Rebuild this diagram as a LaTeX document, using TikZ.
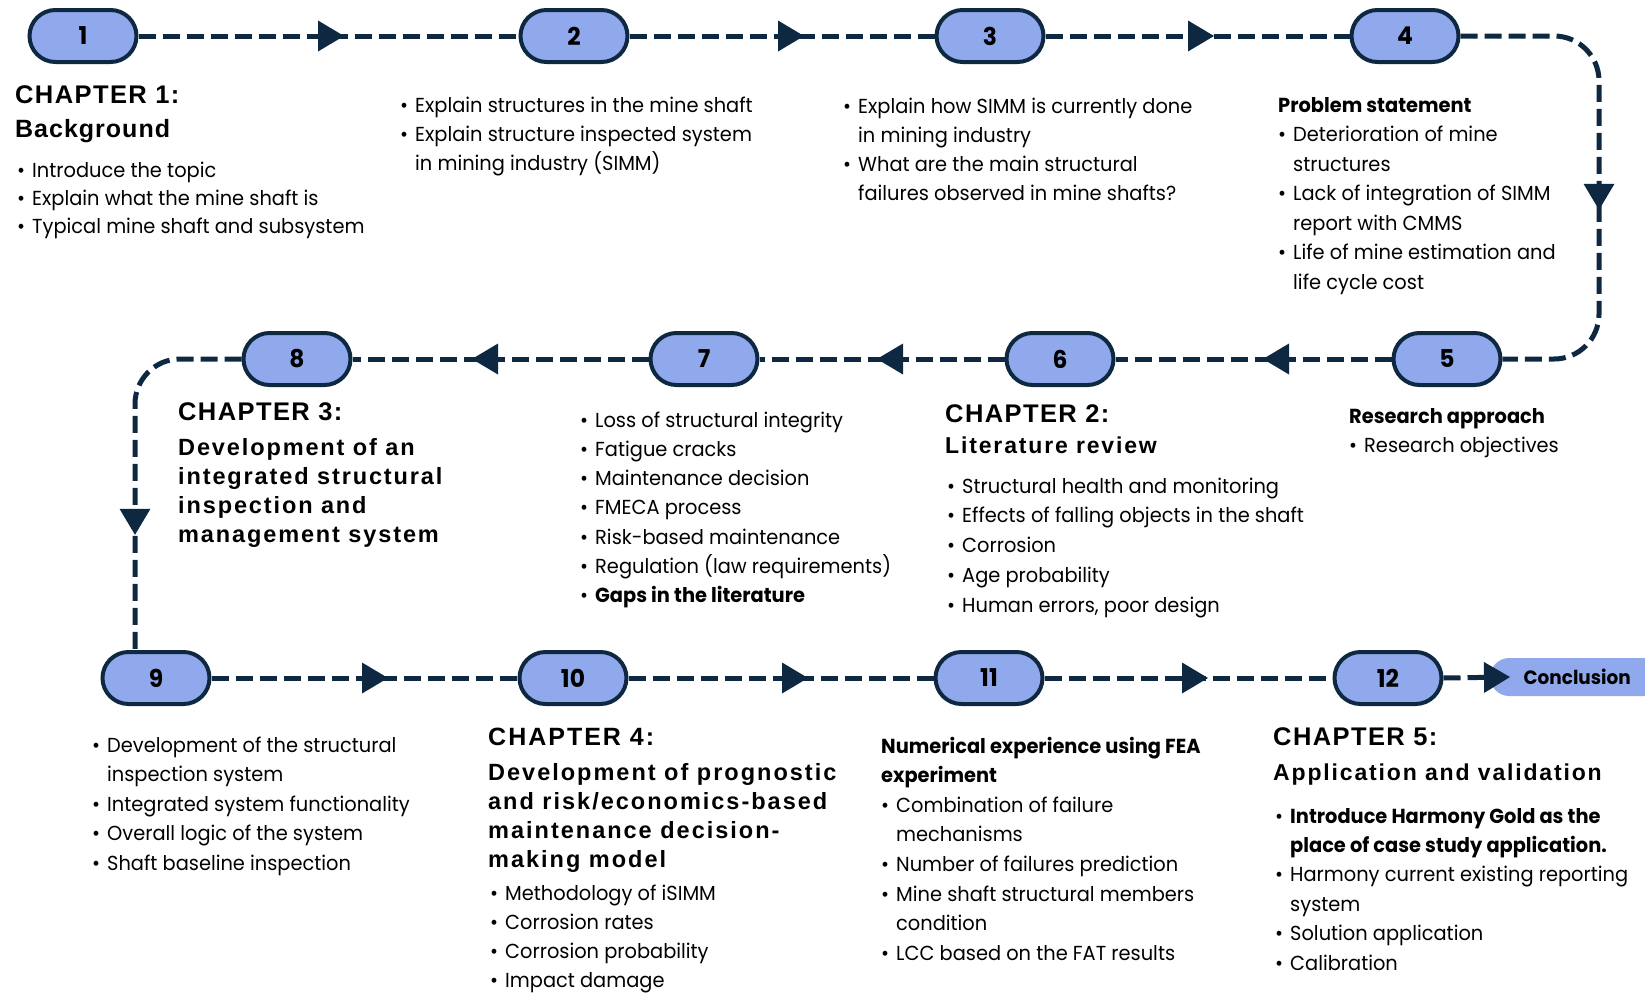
\documentclass[tikz,border=0pt]{standalone}
\usepackage{fontspec}
\usetikzlibrary{arrows.meta,decorations.markings}
\setmainfont{Poppins}
\newfontfamily\bodyfont{Poppins}[FakeStretch=0.955]
\newfontfamily\headfont{Liberation Sans}
\definecolor{navy}{HTML}{0E2841}
\definecolor{stepfill}{HTML}{8FA9EC}

% one line of a text block: bulleted, continued, or plain
\newcommand\itm[1]{\hbox{\makebox[15pt][l]{\textbullet}#1}}
\newcommand\cnt[1]{\hbox{\hspace*{15pt}#1}}
\newcommand\pln[1]{\hbox{#1}}

\tikzset{
  stepnode/.style={draw=navy, line width=4pt, fill=stepfill,
    rounded corners=26pt, minimum width=107pt, minimum height=52pt,
    inner sep=0pt, text=black, font=\bodyfont\bfseries\fontsize{24.5}{24}\selectfont},
  endnode/.style={fill=stepfill, rounded corners=19pt, minimum width=174pt,
    minimum height=38pt, inner sep=0pt, anchor=west, text=black,
    font=\bodyfont\bfseries\fontsize{19.3}{20}\selectfont},
  conn/.style={draw=navy, line width=5pt, dash pattern=on 17pt off 7pt},
  tipshape/.tip={Triangle[length=26pt,width=31pt,line width=0pt]},
  tipat/.style={postaction={decorate}, decoration={markings,
    mark=at position #1 with {\arrow{tipshape}}}},
  body/.style={anchor=base west, inner sep=0pt, text=black,
    font=\bodyfont\fontsize{20.3}{#1}\selectfont},
  body/.default=29.4pt,
  head/.style 2 args={anchor=base west, inner sep=0pt, text=black,
    font=\headfont\bfseries\fontsize{#1}{29}\selectfont\addfontfeature{LetterSpace=#2}},
}

\begin{document}
\begin{tikzpicture}[x=1pt, y=-1pt]
\useasboundingbox (0,0) rectangle (1645,993);
\clip (0,0) rectangle (1645,993);

% ---- step markers ----
\node[stepnode] (n1)  at (83,36)   {1};
\node[stepnode] (n2)  at (574,36)  {2};
\node[stepnode] (n3)  at (990,36)  {3};
\node[stepnode] (n4)  at (1405,36) {4};
\node[stepnode] (n5)  at (1447,359) {5};
\node[stepnode] (n6)  at (1060,359) {6};
\node[stepnode] (n7)  at (704,359)  {7};
\node[stepnode] (n8)  at (297,359)  {8};
\node[stepnode] (n9)  at (156,678)  {9};
\node[stepnode] (n10) at (573,678)  {10};
\node[stepnode] (n11) at (989,678)  {11};
\node[stepnode] (n12) at (1388,678) {12};
\node[endnode]  (conc) at (1490,677) {Conclusion};

% ---- connectors ----
\draw[conn, tipat=205.5pt] (n1.east) -- (n2.west);
\draw[conn, tipat=174.5pt] (n2.east) -- (n3.west);
\draw[conn, tipat=168.5pt] (n3.east) -- (n4.west);
\draw[conn, rounded corners=45pt, tipat=293pt] (n4.east) -- ++(138.5,0) |- (n5.east);
\draw[conn, tipat=128.5pt] (n5.west) -- (n6.east);
\draw[conn, tipat=127.5pt] (n6.west) -- (n7.east);
\draw[conn, tipat=176.5pt] (n7.west) -- (n8.east);
\draw[conn, rounded corners=45pt, tipat=263pt] (n8.west) -| ([xshift=-21pt]n9.north);
\draw[conn, tipat=176.5pt] (n9.east) -- (n10.west);
\draw[conn, tipat=179.5pt] (n10.east) -- (n11.west);
\draw[conn, tipat=163.5pt] (n11.east) -- (n12.west);
\draw[conn, -tipshape] (n12.east) -- ([xshift=20pt]conc.west);

% ---- chapter 1 ----
\node[head={25.5}{5.5}] (h1a) at (15,103) {CHAPTER 1:};
\node[head={25}{4}] (h1b) at (15,137) {Background};
\node[body=28pt] (t1) at (17,177) {\vtop{%
  \itm{Introduce the topic}
  \itm{Explain what the mine shaft is}
  \itm{Typical mine shaft and subsystem}}};

\node[body=29pt] (t2) at (400,112) {\vtop{%
  \itm{Explain structures in the mine shaft}
  \itm{Explain structure inspected system}
  \cnt{in mining industry (SIMM)}}};

\node[body=29.3pt] (t3) at (843,113) {\vtop{%
  \itm{Explain how SIMM is currently done}
  \cnt{in mining industry}
  \itm{What are the main structural}
  \cnt{failures observed in mine shafts?}}};

\node[body=29.5pt] (t4) at (1278,112) {\vtop{%
  \pln{\bfseries Problem statement}
  \itm{Deterioration of mine}
  \cnt{structures}
  \itm{Lack of integration of SIMM}
  \cnt{report with CMMS}
  \itm{Life of mine estimation and}
  \cnt{life cycle cost}}};

\node[body=29pt] (t5) at (1349,423) {\vtop{%
  \pln{\bfseries Research approach}
  \itm{Research objectives}}};

% ---- chapter 2 ----
\node[head={25.5}{5.5}] (h2a) at (945,422) {CHAPTER 2:};
\node[head={23}{8}] (h2b) at (945,453) {Literature review};
\node[body=29.75pt] (t6) at (947,493) {\vtop{%
  \itm{Structural health and monitoring}
  \itm{Effects of falling objects in the shaft}
  \itm{Corrosion}
  \itm{Age probability}
  \itm{Human errors, poor design}}};

\node[body=29.3pt] (t7) at (580,427) {\vtop{%
  \itm{Loss of structural integrity}
  \itm{Fatigue cracks}
  \itm{Maintenance decision}
  \itm{FMECA process}
  \itm{Risk-based maintenance}
  \itm{Regulation (law requirements)}
  \itm{\bfseries Gaps in the literature}}};

% ---- chapter 3 ----
\node[head={25.5}{5.5}] (h3a) at (178,420) {CHAPTER 3:};
\node[head={23.5}{8}] (h3b) at (178,455) {\vtop{%
  \hbox{Development of an}
  \hbox{integrated structural}
  \hbox{inspection and}
  \hbox{management system}}};

\node[body=29.5pt] (t9) at (92,752) {\vtop{%
  \itm{Development of the structural}
  \cnt{inspection system}
  \itm{Integrated system functionality}
  \itm{Overall logic of the system}
  \itm{Shaft baseline inspection}}};

% ---- chapter 4 ----
\node[head={25}{8}] (h4a) at (488,745) {CHAPTER 4:};
\node[head={23.5}{8.5}] (h4b) at (488,780) {\vtop{%
  \hbox{Development of prognostic}
  \hbox{and risk/economics-based}
  \hbox{maintenance decision-}
  \hbox{making model}}};
\node[body=29.3pt] (t10) at (490,900) {\vtop{%
  \itm{Methodology of iSIMM}
  \itm{Corrosion rates}
  \itm{Corrosion probability}
  \itm{Impact damage}}};

\node[body=29.6pt] (t11) at (881,753) {\vtop{%
  \pln{\bfseries Numerical experience using FEA}
  \pln{\bfseries experiment}
  \itm{Combination of failure}
  \cnt{mechanisms}
  \itm{Number of failures prediction}
  \itm{Mine shaft structural members}
  \cnt{condition}
  \itm{LCC based on the FAT results}}};

% ---- chapter 5 ----
\node[head={25.5}{5.5}] (h5a) at (1273,745) {CHAPTER 5:};
\node[head={23}{8}] (h5b) at (1273,780) {Application and validation};
\node[body=29.4pt] (t12) at (1275,823) {\vtop{%
  \itm{\bfseries Introduce Harmony Gold as the}
  \cnt{\bfseries place of case study application.}
  \itm{Harmony current existing reporting}
  \cnt{system}
  \itm{Solution application}
  \itm{Calibration}}};
\end{tikzpicture}
\end{document}
